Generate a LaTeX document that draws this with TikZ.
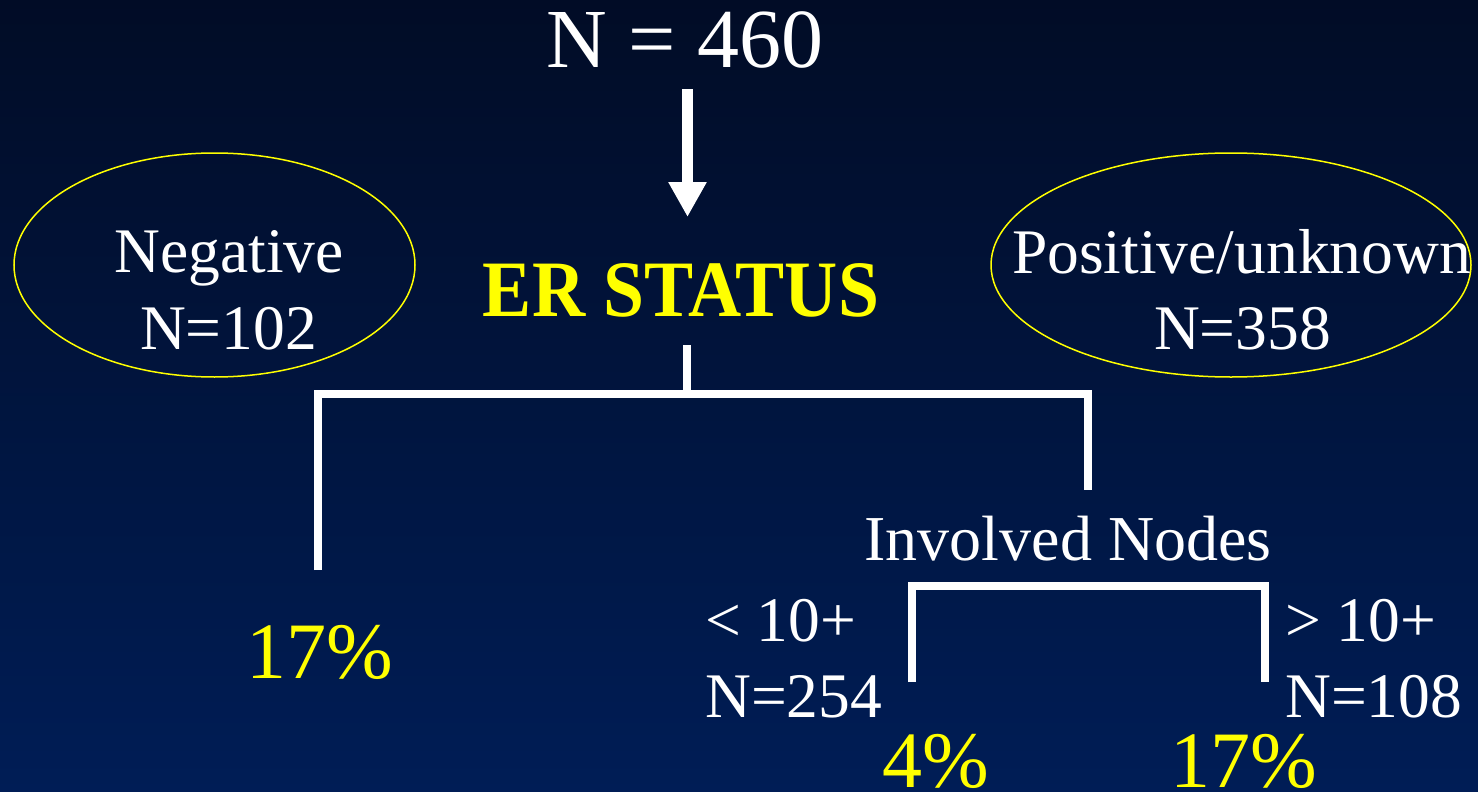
\documentclass[tikz,border=0pt]{standalone}
\usepackage{fontspec}
\setmainfont{Liberation Serif}
\usepackage{graphicx}
\usetikzlibrary{shapes.geometric,arrows.meta}
\definecolor{bgtop}{RGB}{1,12,38}
\definecolor{bgbot}{RGB}{0,29,86}
\definecolor{yel}{RGB}{255,255,0}
\tikzset{
  txt/.style={text=white, inner sep=0pt, anchor=base, font=\fontsize{63.5}{63.5}\selectfont},
  ytxt/.style={text=yel, inner sep=0pt, anchor=base, font=\fontsize{80}{80}\selectfont},
  oval/.style={ellipse, draw=yel, line width=1.5pt, inner sep=0pt},
  bar/.style={draw=white, line width=8pt},
  bigarrow/.style={draw=white, line width=11pt, -{Triangle[width=36pt,length=35pt]}}
}
\begin{document}
\begin{tikzpicture}[x=1pt,y=-1pt]
\useasboundingbox (0,0) rectangle (1478,792);
\fill[top color=bgtop, bottom color=bgbot] (0,0) rectangle (1478,792);
% top
\node[txt, font=\fontsize{84}{84}\selectfont] (n460) at (685,68) {N = 460};
\coordinate (arrtop) at (687.5,89);
\coordinate (arrtip) at (687.5,217);
\draw[bigarrow] (arrtop) -- (arrtip);
\node[ytxt] (er) at (681,316) {\scalebox{0.92}[1]{\bfseries ER STATUS}};
% ellipses
\node[oval, minimum width=401pt, minimum height=224pt] (negov) at (214.5,265) {};
\node[txt] (neg1) at (229,272) {Negative};
\node[txt] (neg2) at (228.5,349) {N=102};
\node[oval, minimum width=480pt, minimum height=224pt] (posov) at (1231,265) {};
\node[txt] (pos1) at (1241.5,273) {Positive/unknown};
\node[txt] (pos2) at (1242.5,349) {N=358};
% first bracket
\coordinate (stemtop) at (687,345);
\coordinate (stembot) at (687,393.5);
\coordinate (b1lt) at (318,393.5);
\coordinate (b1lb) at (318,570);
\coordinate (b1rt) at (1088,393.5);
\coordinate (b1rb) at (1088,490);
\draw[bar] (stemtop) -- (stembot);
\draw[bar] (b1lb) -- (b1lt) -- (b1rt) -- (b1rb);
\node[ytxt] (p17a) at (320,678) {17\%};
% second level
\node[txt, font=\fontsize{64}{64}\selectfont] (inv) at (1068,560) {Involved Nodes};
\coordinate (b2lt) at (912,586);
\coordinate (b2lb) at (912,682);
\coordinate (b2rt) at (1265,586);
\coordinate (b2rb) at (1265,682);
\draw[bar] (b2lb) -- (b2lt) -- (b2rt) -- (b2rb);
\node[txt, anchor=base west] (lt1) at (705,641) {< 10+};
\node[txt, anchor=base west] (lt2) at (705,717) {N=254};
\node[txt, anchor=base west] (gt1) at (1285,641) {> 10+};
\node[txt, anchor=base west] (gt2) at (1285,717) {N=108};
\node[ytxt] (p4) at (936,787) {4\%};
\node[ytxt] (p17b) at (1244,787) {17\%};
\end{tikzpicture}
\end{document}
